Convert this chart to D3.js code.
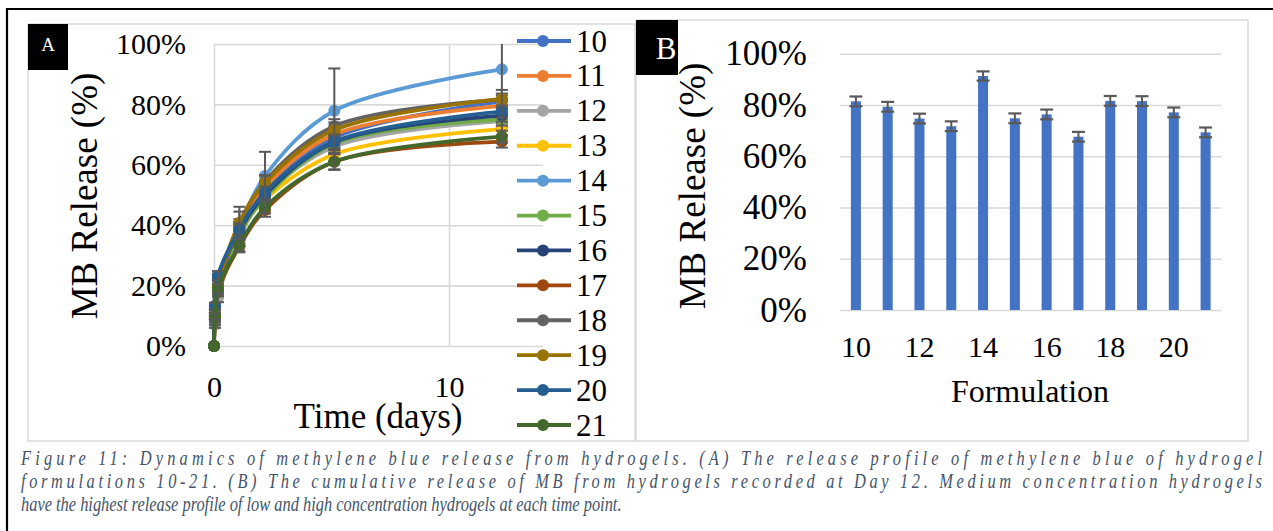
<!DOCTYPE html>
<html>
<head>
<meta charset="utf-8">
<script src="https://cdn.jsdelivr.net/npm/d3@7"></script>
<style>
  html, body { margin: 0; padding: 0; background: #ffffff; }
  svg { display: block; }
</style>
</head>
<body>
<svg id="fig" width="1273" height="531"></svg>
<script>
// ---- Data -------------------------------------------------------------
// Sampling times (days) for the release profile
const times = [0, 0.04, 0.17, 1.08, 2.17, 5.12, 12.25];

// Cumulative MB release (%) per formulation at each sampling time
const release10 = [0, 11, 20, 39, 51, 69, 81];
const release11 = [0, 11, 19, 39, 52.5, 70, 79.5];
const release12 = [0, 7, 16, 36, 49.5, 66, 74.5];
const release13 = [0, 10, 19, 38, 48.5, 63.5, 71.8];
const release14 = [0, 12, 22, 39.5, 56.3, 77.9, 91.6];
const release15 = [0, 9, 18, 37, 49, 67, 75];
const release16 = [0, 13, 22, 38, 50, 67.5, 76.3];
const release17 = [0, 10, 18, 33, 45, 61, 67.7];
const release18 = [0, 8, 18, 40, 54.5, 72.8, 81.6];
const release19 = [0, 10, 20, 40.8, 54, 71.5, 81.8];
const release20 = [0, 13.3, 23.3, 38.6, 50.8, 67.7, 77.6];
const release21 = [0, 9.7, 19, 33.4, 45.9, 61, 69.3];

// Standard deviations (%) per formulation at each sampling time
const sd10 = [0, 1, 1.5, 2, 2, 2.3, 2];
const sd11 = [0, 1, 1.5, 2, 2, 2.3, 2];
const sd12 = [0, 1, 1.5, 2, 2, 2.3, 2];
const sd13 = [0, 1, 1.5, 2, 2, 2.3, 2];
const sd14 = [0, 1, 2, 6.6, 8, 14, 9.5];
const sd15 = [0, 1, 1.5, 2, 2, 2.3, 2];
const sd16 = [0, 1, 1.5, 2, 2, 2.3, 2];
const sd17 = [0, 1, 1.5, 2, 2.2, 2.5, 2];
const sd18 = [0, 1, 1.5, 2, 2, 2.3, 2];
const sd19 = [0, 1, 1.5, 3.7, 2.5, 2.5, 3];
const sd20 = [0, 1, 1.5, 2, 2, 2.3, 2];
const sd21 = [0, 1, 1.5, 2, 2, 2.7, 2];

const formulations = ["10", "11", "12", "13", "14", "15", "16", "17", "18", "19", "20", "21"];
const seriesColors = ["#4472C4", "#ED7D31", "#A5A5A5", "#FFC000", "#5B9BD5", "#70AD47",
                      "#264478", "#9E480E", "#636363", "#997300", "#255E91", "#43682B"];

// Cumulative release at day 12 (%) and its standard deviation
const day12Release = [81.4, 79.3, 74.7, 71.7, 91.3, 74.8, 76.3, 67.6, 81.6, 81.5, 77.1, 69.3];
const day12Sd = [1.9, 1.9, 1.9, 1.9, 1.8, 1.9, 1.9, 1.9, 1.9, 1.9, 1.9, 1.9];

const percentTicks = [0, 20, 40, 60, 80, 100];
const timeTicks = [0, 10];
const formulationTicks = ["10", "12", "14", "16", "18", "20"];

const captionLines = [
  "Figure 11: Dynamics of methylene blue release from hydrogels. (A) The release profile of methylene blue of hydrogel",
  "formulations 10-21. (B) The cumulative release of MB from hydrogels recorded at Day 12. Medium concentration hydrogels",
  "have the highest release profile of low and high concentration hydrogels at each time point."
];

const releaseTable = [release10, release11, release12, release13, release14, release15,
                      release16, release17, release18, release19, release20, release21];
const sdTable = [sd10, sd11, sd12, sd13, sd14, sd15, sd16, sd17, sd18, sd19, sd20, sd21];

const series = formulations.map((f, i) => ({
  name: f,
  color: seriesColors[i],
  points: times.map((t, j) => ({ t, v: releaseTable[i][j], sd: sdTable[i][j] }))
}));

// ---- Figure -----------------------------------------------------------
const FONT = '"Times New Roman", "Liberation Serif", serif';
const svg = d3.select("#fig").attr("font-family", FONT);
const GRID = "#d9d9d9";
const ERR = "#595959";
const pct = d => d + "%";
const serifTicks = size => g => g.attr("font-family", FONT)
  .call(s => s.select(".domain").remove())
  .call(s => s.selectAll("text").attr("font-size", size).attr("fill", "#000"));

// outer frame (top and left rules)
svg.append("line").attr("x1", 7).attr("x2", 1273).attr("y1", 9).attr("y2", 9)
  .attr("stroke", "#000").attr("stroke-width", 2);
svg.append("line").attr("x1", 7).attr("x2", 7).attr("y1", 8).attr("y2", 531)
  .attr("stroke", "#000").attr("stroke-width", 2.2);

// panel frames
svg.append("rect").attr("x", 28).attr("y", 24).attr("width", 607).attr("height", 417)
  .attr("fill", "none").attr("stroke", GRID).attr("stroke-width", 1.5);
svg.append("rect").attr("x", 636).attr("y", 20).attr("width", 612).attr("height", 421)
  .attr("fill", "none").attr("stroke", GRID).attr("stroke-width", 1.5);

// ===== Panel A: release profile =====
const gA = svg.append("g");
const xA = d3.scaleLinear().domain([0, 14]).range([214, 543]);
const yA = d3.scaleLinear().domain([0, 100]).range([346, 44]).clamp(true);

// horizontal gridlines
gA.append("g").attr("transform", `translate(${xA(0)},0)`)
  .call(d3.axisLeft(yA).tickValues(percentTicks).tickSize(-(xA(14) - xA(0))).tickFormat(""))
  .call(g => g.select(".domain").remove())
  .call(g => g.selectAll("line").attr("stroke", GRID).attr("stroke-width", 1.6));
// vertical gridlines
gA.append("g").attr("transform", `translate(0,${yA(0)})`)
  .call(d3.axisBottom(xA).tickValues(timeTicks).tickSize(-(yA(0) - yA(100))).tickFormat(""))
  .call(g => g.select(".domain").remove())
  .call(g => g.selectAll("line").attr("stroke", GRID).attr("stroke-width", 1.6));

// tick labels
gA.append("g").attr("transform", "translate(186,0)")
  .call(d3.axisLeft(yA).tickValues(percentTicks).tickSize(0).tickPadding(0).tickFormat(pct))
  .call(serifTicks(30));
gA.append("g").attr("transform", "translate(0,376)")
  .call(d3.axisBottom(xA).tickValues(timeTicks).tickSize(0).tickPadding(0))
  .call(serifTicks(30));

// axis titles
gA.append("text").attr("x", 378).attr("y", 428).attr("text-anchor", "middle")
  .attr("font-size", 35).text("Time (days)");
gA.append("text").attr("transform", "translate(97,196) rotate(-90)")
  .attr("text-anchor", "middle").attr("font-size", 37).text("MB Release (%)");

// series: smoothed lines, markers and error bars
const lineGen = d3.line().x(d => xA(d.t)).y(d => yA(d.v)).curve(d3.curveCatmullRom.alpha(0.5));
series.forEach(s => {
  const g = gA.append("g");
  g.append("path").attr("d", lineGen(s.points)).attr("fill", "none")
    .attr("stroke", s.color).attr("stroke-width", 3.8);
  g.selectAll("circle").data(s.points).join("circle")
    .attr("cx", d => xA(d.t)).attr("cy", d => yA(d.v)).attr("r", 6)
    .attr("fill", s.color);
  const eb = g.selectAll("g.err").data(s.points.filter(d => d.sd > 0)).join("g").attr("class", "err");
  eb.append("line").attr("x1", d => xA(d.t)).attr("x2", d => xA(d.t))
    .attr("y1", d => yA(d.v - d.sd)).attr("y2", d => yA(d.v + d.sd))
    .attr("stroke", ERR).attr("stroke-width", 2);
  eb.filter(d => d.v + d.sd <= 100).append("line")
    .attr("x1", d => xA(d.t) - 6).attr("x2", d => xA(d.t) + 6)
    .attr("y1", d => yA(d.v + d.sd)).attr("y2", d => yA(d.v + d.sd))
    .attr("stroke", ERR).attr("stroke-width", 2);
  eb.append("line")
    .attr("x1", d => xA(d.t) - 6).attr("x2", d => xA(d.t) + 6)
    .attr("y1", d => yA(d.v - d.sd)).attr("y2", d => yA(d.v - d.sd))
    .attr("stroke", ERR).attr("stroke-width", 2);
});

// legend
const legend = gA.append("g");
const legendY = d3.scalePoint().domain(formulations).range([41, 425]);
series.forEach(s => {
  const y = legendY(s.name);
  legend.append("line").attr("x1", 517).attr("x2", 571).attr("y1", y).attr("y2", y)
    .attr("stroke", s.color).attr("stroke-width", 3.8);
  legend.append("circle").attr("cx", 543).attr("cy", y).attr("r", 6).attr("fill", s.color);
  legend.append("text").attr("x", 576).attr("y", y).attr("dy", "0.34em")
    .attr("font-size", 31).text(s.name);
});

// panel label A
gA.append("rect").attr("x", 28).attr("y", 24).attr("width", 40).attr("height", 46).attr("fill", "#000");
gA.append("text").attr("x", 48).attr("y", 51).attr("text-anchor", "middle")
  .attr("font-size", 19).attr("fill", "#fff").text("A");

// ===== Panel B: day-12 cumulative release =====
const gB = svg.append("g");
const xB = d3.scaleBand().domain(formulations).range([840, 1221.5]).paddingInner(0.685).paddingOuter(0.3425);
const yB = d3.scaleLinear().domain([0, 100]).range([310, 53.7]);

gB.append("g").attr("transform", "translate(840,0)")
  .call(d3.axisLeft(yB).tickValues(percentTicks).tickSize(-381.5).tickFormat(""))
  .call(g => g.select(".domain").remove())
  .call(g => g.selectAll("line").attr("stroke", GRID).attr("stroke-width", 1.6));

gB.append("g").attr("transform", "translate(807,0)")
  .call(d3.axisLeft(yB).tickValues(percentTicks).tickSize(0).tickPadding(0).tickFormat(pct))
  .call(serifTicks(35));

gB.append("g").attr("transform", "translate(0,336)")
  .call(d3.axisBottom(xB).tickValues(formulationTicks).tickSize(0).tickPadding(0))
  .call(serifTicks(30));

const barData = formulations.map((f, i) => ({ f, v: day12Release[i], sd: day12Sd[i] }));
gB.selectAll("rect.bar").data(barData).join("rect").attr("class", "bar")
  .attr("x", d => xB(d.f)).attr("width", xB.bandwidth())
  .attr("y", d => yB(d.v)).attr("height", d => yB(0) - yB(d.v))
  .attr("fill", "#4472C4");

const ebB = gB.selectAll("g.err").data(barData).join("g").attr("class", "err");
const cx = d => xB(d.f) + xB.bandwidth() / 2;
ebB.append("line").attr("x1", cx).attr("x2", cx)
  .attr("y1", d => yB(d.v - d.sd)).attr("y2", d => yB(d.v + d.sd))
  .attr("stroke", ERR).attr("stroke-width", 2);
[1, -1].forEach(sign => {
  ebB.append("line")
    .attr("x1", d => cx(d) - 6.5).attr("x2", d => cx(d) + 6.5)
    .attr("y1", d => yB(d.v + sign * d.sd)).attr("y2", d => yB(d.v + sign * d.sd))
    .attr("stroke", ERR).attr("stroke-width", 2.2);
});

gB.append("text").attr("x", 1030).attr("y", 402).attr("text-anchor", "middle")
  .attr("font-size", 32).text("Formulation");
gB.append("text").attr("transform", "translate(705,186) rotate(-90)")
  .attr("text-anchor", "middle").attr("font-size", 37).text("MB Release (%)");

gB.append("rect").attr("x", 636).attr("y", 20).attr("width", 42).attr("height", 55).attr("fill", "#000");
gB.append("text").attr("x", 666).attr("y", 59).attr("text-anchor", "middle")
  .attr("font-size", 31).attr("fill", "#fff").text("B");

// ===== Caption (narrow italic; first two lines justified to the full width) =====
const cap = svg.append("g").attr("fill", "#44546A").attr("font-style", "italic").attr("font-size", 21);
const capBaselines = [465, 488, 511];
const probe = cap.append("text").text(captionLines[2]);
const sx = 601 / probe.node().getComputedTextLength();
probe.remove();
const capG = cap.append("g").attr("transform", `translate(21,0) scale(${sx},1)`);
captionLines.forEach((line, i) => {
  const t = capG.append("text").attr("x", 0).attr("y", capBaselines[i]).text(line);
  if (i < 2) t.attr("textLength", 1241 / sx).attr("lengthAdjust", "spacing");
});
</script>
</body>
</html>
